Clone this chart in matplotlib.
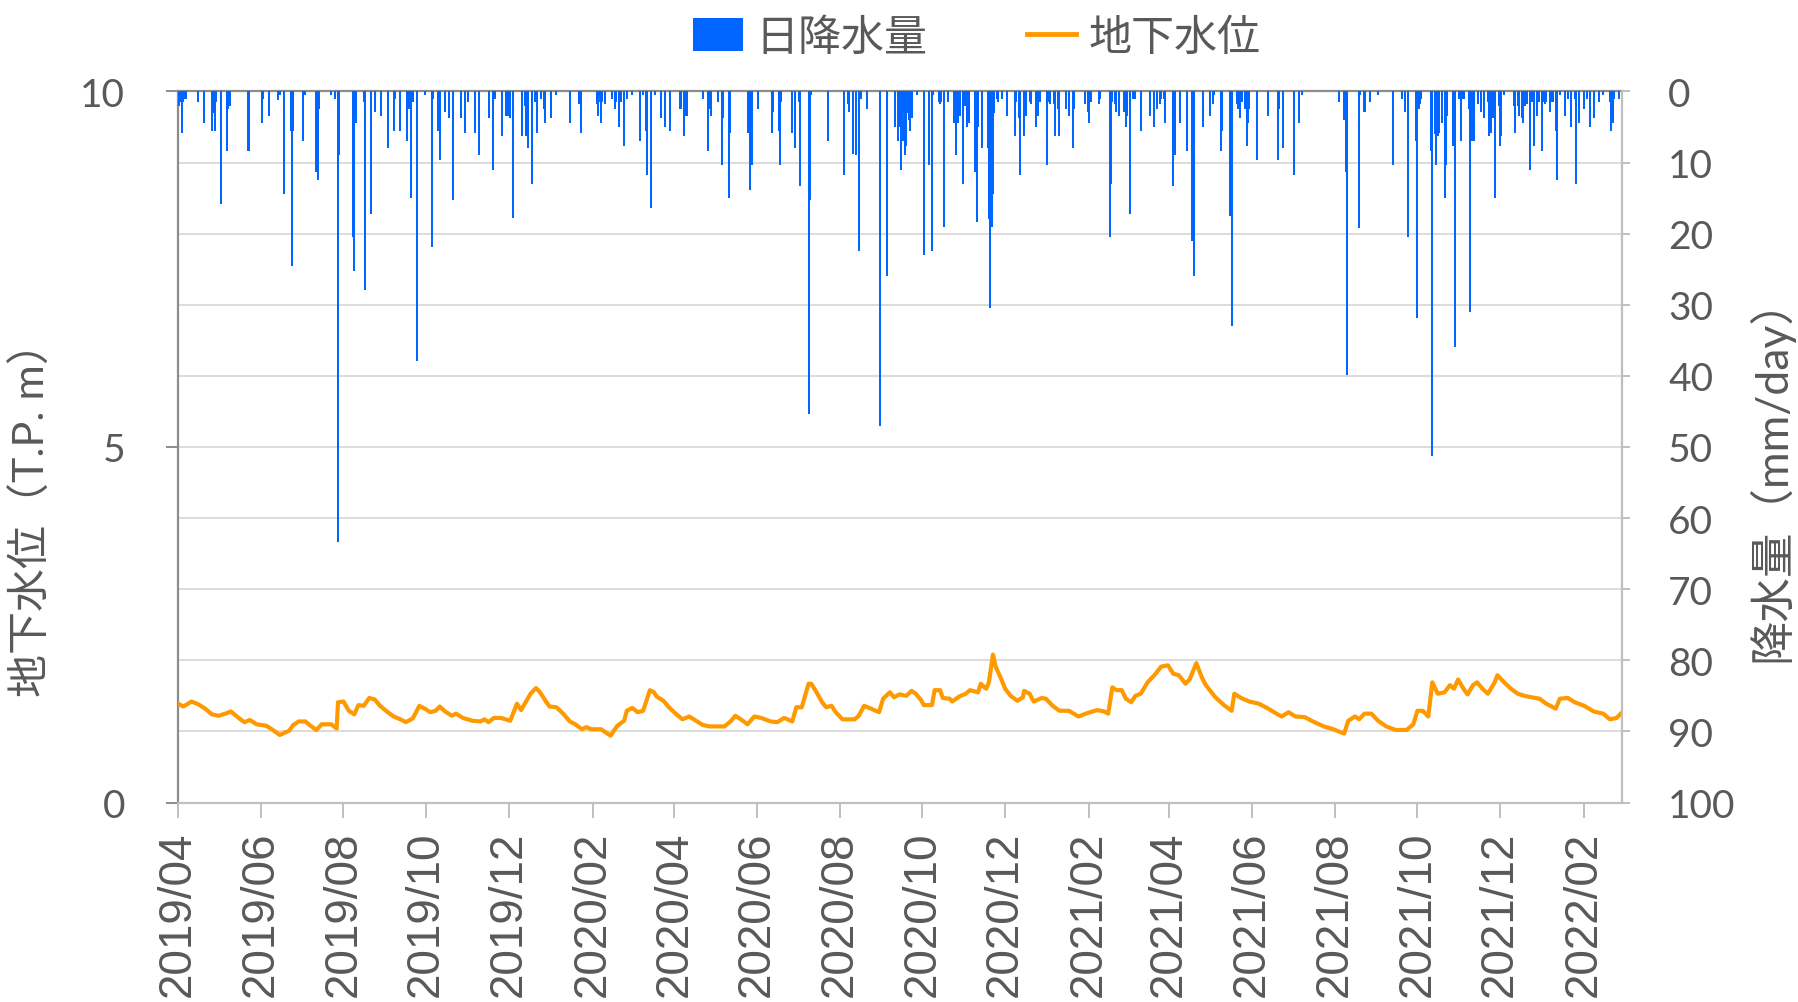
import numpy as np
import matplotlib
matplotlib.use("Agg")
import matplotlib.pyplot as plt
import matplotlib.dates as mdates
from matplotlib.patches import Patch
from matplotlib.lines import Line2D

plt.rcParams["font.family"] = ["Lato", "Noto Sans CJK JP"]

START = np.datetime64("2019-04-01")
X_END = np.datetime64("2022-03-01")

# daily rainfall (mm/day) as (days since START, mm); dry days omitted
rain_fy2019 = [
    (1, 2), (2, 1.5), (3, 5.9), (4, 1.5), (5, 1), (6, 1), (15, 1.5), (19, 4.4),
    (25, 5.5), (26, 3), (27, 5.5), (28, 1.5), (32, 15.8), (36, 8.4), (37, 2.5),
    (38, 2), (52, 8.4), (62, 4.4), (63, 1), (67, 3.5), (74, 1.2), (75, 0.5),
    (78, 14.4), (83, 5.5), (84, 24.5), (85, 5.5), (92, 6.9), (94, 0.5),
    (102, 11.3), (103, 12.4), (104, 2.5), (113, 0.5), (116, 1), (118, 63.4),
    (119, 9), (129, 20.5), (130, 25.3), (131, 4.4), (137, 1.5), (138, 27.9),
    (142, 17.3), (145, 2.9), (150, 3.5), (155, 7.9), (159, 5.5), (160, 1),
    (164, 5.5), (169, 6.9), (170, 2.5), (172, 15), (173, 1.5), (176, 37.9),
    (182, 0.5), (187, 21.9), (188, 1), (192, 5.5), (193, 9.6), (197, 2.9),
    (200, 3.8), (203, 15.3), (209, 3.8), (212, 5.9), (214, 1.5), (219, 5.9),
    (222, 9), (229, 3.8), (232, 11), (234, 1), (239, 6.3), (242, 3.5),
    (243, 3.5), (245, 3.8), (247, 17.8), (254, 6.3), (256, 2), (257, 6.3),
    (258, 7.9), (261, 13), (263, 1.5), (265, 5.9), (268, 1), (270, 2.5),
    (271, 4.4), (275, 3.8), (279, 0.5), (289, 4.4), (296, 1.8), (297, 5.9),
    (309, 1.8), (310, 3.5), (311, 1.5), (312, 4.4), (313, 1.5), (315, 1.8),
    (320, 1), (322, 2.5), (323, 1.5), (325, 5), (327, 1.5), (329, 7.6),
    (331, 1), (335, 0.5), (341, 6.9), (343, 0.5), (345, 5.5), (346, 11.8),
    (349, 16.4), (352, 0.5), (356, 3.8), (359, 5), (363, 5.5),
]
rain_fy2020 = [
    (370, 2.5), (371, 2.5), (373, 6.3), (374, 3), (375, 3.5), (387, 1),
    (391, 8.4), (392, 2.5), (393, 3.5), (398, 1.5), (401, 10.3), (402, 3.8),
    (406, 15), (407, 5.9), (420, 5.9), (422, 13.9), (423, 10.3), (428, 2.5),
    (438, 5.9), (439, 2.9), (443, 5.5), (444, 10.3), (445, 1.5), (453, 5.9),
    (455, 7.9), (458, 1.5), (459, 13.3), (465, 45.3), (466, 15.3), (467, 0.5),
    (479, 6.9), (491, 11.8), (494, 1.8), (495, 2.9), (498, 8.8), (500, 9),
    (502, 22.4), (504, 1), (508, 2.5), (518, 47.1), (523, 25.9), (529, 5),
    (531, 7), (532, 5), (533, 11), (534, 4), (535, 7), (536, 9), (537, 7.6),
    (538, 3), (539, 4), (540, 5.5), (541, 3.8), (545, 0.5), (550, 23),
    (554, 10.3), (556, 22.4), (557, 0.5), (561, 1.5), (562, 1.8), (563, 1.5),
    (565, 19), (568, 1.5), (572, 4.4), (573, 4.4), (574, 9), (575, 4.4),
    (577, 3.5), (579, 13), (580, 2), (582, 5), (583, 4.4), (588, 11.3),
    (589, 18.4), (590, 5), (593, 7.9), (597, 8), (598, 18), (599, 30.4),
    (600, 19), (601, 14.4), (602, 3), (604, 1), (605, 1.5), (608, 1),
    (611, 3.5), (617, 6.3), (618, 1.5), (620, 3.8), (621, 11.8), (624, 6.3),
    (625, 3.5), (628, 1.5), (629, 1.8), (633, 5), (634, 3.5), (636, 1.5),
    (641, 10.3), (642, 1.5), (643, 1.8), (646, 1.8), (647, 6.3), (649, 2.5),
    (650, 6.3), (655, 2.5), (657, 3.5), (660, 7.9), (661, 2.5), (669, 1.8),
    (671, 2.9), (672, 4.4), (673, 1.5), (679, 1.8), (680, 1), (687, 20.4),
    (688, 13), (689, 1.5), (691, 1.8), (692, 2.9), (694, 3.5), (698, 2.9),
    (699, 5), (700, 3.5), (702, 17.3), (704, 1), (706, 1), (710, 5.5),
    (717, 3.5), (720, 5), (722, 2.5), (724, 1.8), (725, 1), (727, 1),
    (728, 4.4),
]
rain_fy2021 = [
    (734, 13.3), (735, 9), (739, 4.4), (744, 8.4), (748, 21), (749, 25.9),
    (756, 5), (761, 3.5), (763, 1.8), (764, 0.5), (769, 8.4), (770, 5.5),
    (776, 17.5), (777, 33), (781, 1.8), (782, 2.5), (783, 3.8), (784, 1),
    (785, 1.5), (787, 2.5), (788, 7.6), (789, 4.4), (790, 2.5), (796, 9.6),
    (804, 3.5), (811, 9.6), (812, 2.5), (815, 7.9), (823, 11.8), (827, 4.4),
    (829, 0.5), (856, 1.5), (860, 4), (861, 11.3), (862, 39.9), (871, 19.2),
    (872, 0.5), (875, 2.9), (879, 1.5), (885, 0.5), (896, 10.3), (903, 1),
    (905, 2.9), (907, 20.4), (913, 7), (914, 31.9), (915, 2.5), (916, 1.8),
    (917, 1), (924, 8.4), (925, 51.3), (927, 6), (928, 10.3), (929, 6.3),
    (930, 5.9), (932, 4.4), (934, 15), (935, 10.3), (936, 3.5), (940, 7.6),
    (942, 35.9), (945, 1), (946, 6.9), (948, 1), (952, 2.5), (953, 31),
    (954, 6.9), (956, 6.9), (959, 1.8), (961, 2.9), (963, 3.8), (966, 1.5),
    (967, 6.3), (968, 5.9), (970, 3.8), (971, 15), (974, 2), (975, 7.6),
    (976, 6.3), (978, 0.5), (985, 2), (986, 5.9), (988, 2), (989, 3.5),
    (991, 3.8), (992, 4.4), (993, 2), (995, 1.8), (997, 11), (998, 1.5),
    (999, 1.5), (1000, 7.6), (1002, 3.5), (1004, 1.5), (1006, 8.4),
    (1007, 1.5), (1008, 1.8), (1009, 1.5), (1012, 2.9), (1013, 1.5),
    (1014, 1.5), (1016, 5.5), (1017, 12.4), (1019, 0.5), (1023, 3.5),
    (1025, 1), (1027, 5), (1030, 1), (1031, 13), (1033, 4.4), (1037, 2.5),
    (1039, 1), (1041, 5), (1044, 3.8), (1048, 1.5), (1051, 0.5), (1056, 1.5),
    (1057, 5.5), (1058, 4.4), (1059, 1), (1063, 1),
]

# groundwater level (T.P. m) as (days since START, level)
gw_fy2019 = [
    (0, 1.39), (4, 1.35), (10, 1.42), (15, 1.38), (20, 1.32), (25, 1.24),
    (30, 1.22), (35, 1.25), (39, 1.28), (46, 1.17), (49, 1.13), (53, 1.16),
    (58, 1.10), (65, 1.08), (70, 1.02), (75, 0.95), (82, 1.01), (85, 1.09),
    (89, 1.14), (94, 1.14), (97, 1.09), (102, 1.02), (106, 1.10), (113, 1.10),
    (117, 1.04), (118, 1.41), (122, 1.42), (126, 1.29), (130, 1.24),
    (133, 1.37), (137, 1.36), (141, 1.47), (145, 1.45), (149, 1.36),
    (154, 1.28), (159, 1.21), (164, 1.17), (168, 1.13), (173, 1.18),
    (175, 1.25), (178, 1.36), (182, 1.32), (186, 1.27), (190, 1.29),
    (193, 1.35), (197, 1.28), (202, 1.22), (205, 1.25), (210, 1.19),
    (217, 1.15), (223, 1.14), (226, 1.17), (229, 1.13), (233, 1.19),
    (238, 1.19), (245, 1.15), (250, 1.39), (253, 1.30), (257, 1.43),
    (260, 1.53), (264, 1.61), (267, 1.55), (271, 1.43), (274, 1.35),
    (279, 1.34), (284, 1.25), (289, 1.14), (293, 1.10), (298, 1.03),
    (301, 1.06), (305, 1.03), (312, 1.03), (319, 0.94), (324, 1.08),
    (329, 1.15), (331, 1.29), (335, 1.33), (339, 1.27), (343, 1.29),
    (348, 1.58), (351, 1.55), (353, 1.49), (358, 1.43), (362, 1.34),
]
gw_fy2020 = [
    (367, 1.25), (372, 1.17), (377, 1.21), (382, 1.15), (387, 1.09),
    (392, 1.07), (403, 1.07), (408, 1.15), (411, 1.22), (415, 1.17),
    (420, 1.10), (425, 1.21), (430, 1.19), (437, 1.14), (442, 1.13),
    (447, 1.19), (453, 1.14), (456, 1.34), (460, 1.34), (465, 1.67),
    (467, 1.67), (470, 1.58), (475, 1.41), (478, 1.34), (482, 1.36),
    (485, 1.27), (490, 1.17), (499, 1.17), (502, 1.22), (506, 1.36),
    (511, 1.32), (517, 1.27), (520, 1.46), (525, 1.55), (528, 1.48),
    (532, 1.52), (537, 1.50), (541, 1.57), (544, 1.53), (548, 1.44),
    (550, 1.37), (556, 1.37), (558, 1.58), (562, 1.58), (564, 1.47),
    (569, 1.46), (571, 1.42), (576, 1.49), (581, 1.53), (584, 1.58),
    (590, 1.55), (592, 1.67), (596, 1.60), (598, 1.69), (601, 2.08),
    (603, 1.91), (607, 1.74), (610, 1.60), (614, 1.50), (619, 1.43),
    (623, 1.48), (624, 1.57), (628, 1.53), (631, 1.42), (637, 1.47),
    (640, 1.46), (645, 1.36), (650, 1.29), (657, 1.29), (664, 1.21),
    (671, 1.26), (678, 1.30), (683, 1.28), (686, 1.25), (689, 1.62),
    (692, 1.58), (696, 1.58), (699, 1.46), (703, 1.41), (706, 1.50),
    (710, 1.53), (715, 1.69), (720, 1.79), (725, 1.91),
]
gw_fy2021 = [
    (730, 1.93), (734, 1.81), (738, 1.79), (743, 1.67), (746, 1.73),
    (751, 1.96), (755, 1.76), (758, 1.65), (765, 1.48), (772, 1.36),
    (777, 1.29), (779, 1.53), (784, 1.47), (790, 1.42), (797, 1.39),
    (804, 1.32), (811, 1.24), (814, 1.21), (819, 1.27), (824, 1.21),
    (831, 1.20), (838, 1.13), (845, 1.07), (852, 1.03), (860, 0.97),
    (863, 1.15), (868, 1.21), (871, 1.17), (875, 1.25), (880, 1.25),
    (885, 1.15), (891, 1.07), (898, 1.02), (906, 1.02), (911, 1.10),
    (914, 1.29), (918, 1.29), (922, 1.21), (925, 1.69), (929, 1.53),
    (934, 1.55), (938, 1.65), (941, 1.60), (944, 1.73), (948, 1.60),
    (951, 1.52), (955, 1.65), (958, 1.69), (962, 1.60), (966, 1.53),
    (971, 1.69), (973, 1.79), (978, 1.69), (983, 1.60), (988, 1.53),
    (993, 1.50), (998, 1.48), (1004, 1.46), (1009, 1.39), (1016, 1.32),
    (1019, 1.46), (1025, 1.47), (1030, 1.41), (1037, 1.36), (1044, 1.28),
    (1051, 1.25), (1056, 1.17), (1061, 1.19), (1064, 1.25),
]

RAIN_COLOR = "#0066FF"
GW_COLOR = "#FF9900"
TEXT = "#595959"

rain = np.array(rain_fy2019 + rain_fy2020 + rain_fy2021)
gw = np.array(gw_fy2019 + gw_fy2020 + gw_fy2021)
rain_dates = START + rain[:, 0].astype(int).astype("timedelta64[D]")
gw_dates = START + gw[:, 0].astype(int).astype("timedelta64[D]")

fig = plt.figure(figsize=(17.98, 10.03), dpi=100)
ax = fig.add_axes([0.099, 0.1989, 0.8032, 0.7089])
ax2 = ax.twinx()

# groundwater level on the left axis
ax.plot(gw_dates, gw[:, 1], color=GW_COLOR, lw=3.0, zorder=3)
ax.set_ylim(0, 10)
ax.set_yticks([0, 5, 10])
ax.set_yticks(np.arange(0, 11, 1), minor=True)
ax.grid(True, which="both", axis="y", color="#D9D9D9", lw=1.3)
ax.set_axisbelow(True)

# daily rainfall hanging from the top, right axis inverted
ax2.bar(rain_dates, rain[:, 1], width=1.5, color=RAIN_COLOR, lw=0)
ax2.set_ylim(100, 0)
ax2.set_yticks(np.arange(0, 101, 10))

ax.set_xlim(START, X_END)
ax.xaxis.set_major_locator(mdates.MonthLocator(bymonth=[2, 4, 6, 8, 10, 12]))
ax.xaxis.set_major_formatter(mdates.DateFormatter("%Y/%m"))

for side in ["left", "top"]:
    ax.spines[side].set_color("#8C8C8C")
    ax.spines[side].set_linewidth(1.6)
ax.spines["bottom"].set_color("#BFBFBF")
ax.spines["bottom"].set_linewidth(1.6)
ax.spines["right"].set_visible(False)
for side in ["left", "top", "bottom"]:
    ax2.spines[side].set_visible(False)
ax2.spines["right"].set_color("#BFBFBF")
ax2.spines["right"].set_linewidth(1.6)

ax.tick_params(axis="y", which="major", length=9, width=1.4, color="#8C8C8C",
               pad=29, labelsize=28, labelcolor=TEXT)
ax.tick_params(axis="y", which="minor", length=0)
ax.tick_params(axis="x", length=11, width=1.4, color="#BFBFBF", pad=9,
               labelsize=33, labelcolor=TEXT, labelrotation=90)
ax2.tick_params(axis="y", length=6, width=1.4, color="#BFBFBF", pad=27,
                labelsize=28, labelcolor=TEXT)
for lbl in ax.get_xticklabels():
    lbl.set_fontfamily("Liberation Sans")

ax.set_ylabel("地下水位（T.P. m）", fontsize=31, color=TEXT)
ax.yaxis.set_label_coords(-0.0873, 0.414)
ax2.set_ylabel("降水量（mm/day）", fontsize=32, color=TEXT)
ax2.yaxis.set_label_coords(1.087, 0.47)

handles = [
    Patch(facecolor=RAIN_COLOR, edgecolor="none", label="日降水量"),
    Line2D([0], [0], color=GW_COLOR, lw=3.5, label="地下水位"),
]
fig.legend(handles=handles, loc="center", bbox_to_anchor=(977 / 1798, 1 - 38 / 1003),
           ncol=2, frameon=False, fontsize=31, labelcolor=TEXT,
           handlelength=1.15, handleheight=0.8, handletextpad=0.3,
           columnspacing=2.3)

fig.savefig("out.png", dpi=100)
